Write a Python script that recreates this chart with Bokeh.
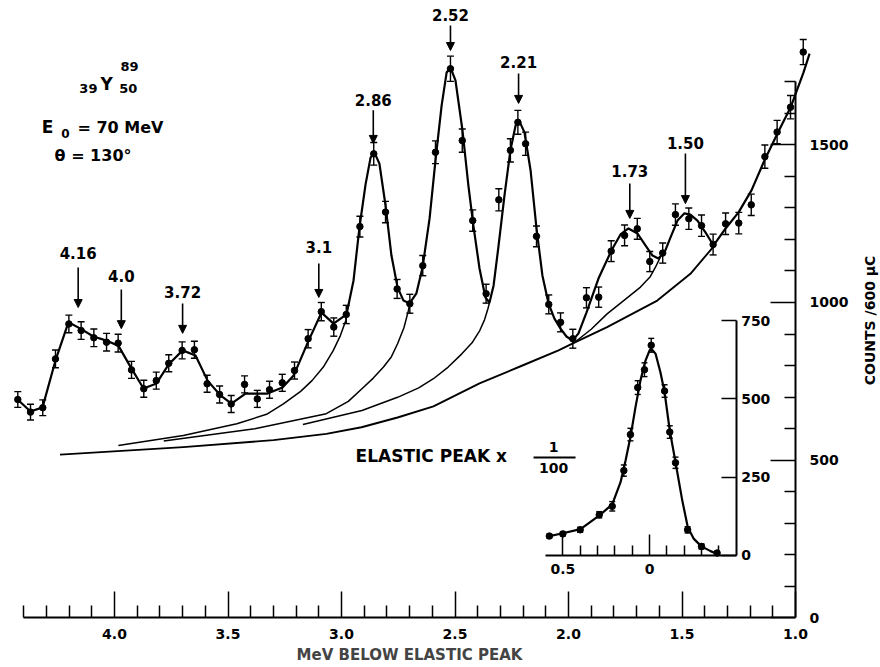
from bokeh.plotting import figure
from bokeh.models import (ColumnDataSource, Range1d, LinearAxis, FixedTicker,
                          Whisker, TeeHead, Arrow, NormalHead, Label)
from bokeh.core.properties import value
from bokeh.embed import file_html
from bokeh.resources import INLINE

FONT = "DejaVu Sans"

# ---------------- main spectrum (MeV below elastic peak, counts / 600 uC) ----
energy = [4.426, 4.370, 4.316, 4.260, 4.201, 4.147, 4.091, 4.035, 3.984, 3.925,
          3.871, 3.816, 3.761, 3.702, 3.648, 3.592, 3.537, 3.486, 3.427, 3.371,
          3.317, 3.261, 3.207, 3.147, 3.089, 3.034, 2.979, 2.919, 2.858, 2.806,
          2.755, 2.699, 2.642, 2.586, 2.520, 2.468, 2.422, 2.363, 2.307, 2.256,
          2.223, 2.189, 2.141, 2.087, 2.035, 1.981, 1.921, 1.867, 1.812, 1.753,
          1.697, 1.642, 1.585, 1.529, 1.470, 1.414, 1.363, 1.308, 1.250, 1.195,
          1.135, 1.081, 1.022, 0.966]
counts = [692, 652, 666, 821, 932, 911, 888, 874, 871, 786,
          726, 752, 807, 848, 850, 742, 708, 678, 740, 694,
          723, 745, 784, 885, 971, 922, 962, 1241, 1472, 1287,
          1043, 996, 1117, 1477, 1742, 1514, 1260, 1028, 1326, 1483,
          1572, 1504, 1210, 994, 937, 885, 1015, 1017, 1163, 1213,
          1234, 1130, 1157, 1279, 1266, 1244, 1184, 1250, 1252, 1310,
          1463, 1541, 1620, 1795]
count_err = [25, 25, 25, 28, 28, 28, 28, 28, 28, 27,
             27, 27, 27, 27, 27, 27, 27, 27, 27, 27,
             27, 27, 27, 29, 29, 29, 29, 33, 36, 34,
             30, 30, 32, 36, 40, 37, 34, 30, 35, 37,
             38, 37, 33, 30, 30, 30, 32, 32, 33, 33,
             33, 32, 32, 34, 34, 34, 33, 34, 34, 34,
             37, 37, 37, 40]

# fitted total curve
fit_energy = [4.427, 4.370, 4.317, 4.260, 4.203, 4.150, 4.093, 4.035, 3.983, 3.925,
              3.872, 3.815, 3.762, 3.700, 3.643, 3.590, 3.533, 3.485, 3.423, 3.374,
              3.326, 3.260, 3.211, 3.145, 3.088, 3.035, 2.978, 2.947, 2.921, 2.894,
              2.872, 2.855, 2.833, 2.806, 2.780, 2.753, 2.727, 2.700, 2.670, 2.643,
              2.612, 2.586, 2.559, 2.537, 2.520, 2.498, 2.467, 2.441, 2.419, 2.392,
              2.366, 2.348, 2.330, 2.308, 2.282, 2.256, 2.233, 2.216, 2.194, 2.167,
              2.141, 2.115, 2.088, 2.062, 2.035, 2.009, 1.982, 1.956, 1.921, 1.868,
              1.811, 1.771, 1.736, 1.696, 1.661, 1.630, 1.604, 1.577, 1.551, 1.520,
              1.489, 1.463, 1.432, 1.396, 1.361, 1.308, 1.251, 1.194, 1.137, 1.079,
              1.022, 0.965, 0.938]
fit_counts = [692, 654, 667, 816, 937, 917, 892, 879, 863, 790,
              727, 743, 803, 848, 832, 752, 705, 679, 711, 711,
              711, 730, 768, 879, 968, 933, 962, 1070, 1238, 1375,
              1460, 1476, 1441, 1308, 1149, 1048, 1006, 997, 1029, 1111,
              1267, 1451, 1625, 1730, 1746, 1705, 1546, 1371, 1244, 1108,
              1016, 1000, 1054, 1181, 1340, 1483, 1562, 1575, 1540, 1419,
              1235, 1086, 997, 949, 917, 892, 879, 902, 968, 1076,
              1165, 1216, 1235, 1219, 1181, 1149, 1140, 1159, 1206, 1260,
              1283, 1279, 1260, 1222, 1181, 1235, 1286, 1356, 1451, 1537,
              1619, 1730, 1790]

# radiative tails / background curves
bg_energy = [4.240, 3.697, 3.300, 3.067, 2.912, 2.753, 2.595, 2.392, 2.203, 2.044,
             1.981, 1.830, 1.609, 1.463, 1.363]
bg_counts = [517, 541, 563, 583, 604, 635, 670, 743, 800, 848,
             870, 922, 1006, 1091, 1176]
tail_b_energy = [3.983, 3.697, 3.461, 3.330, 3.256, 3.180, 3.130, 3.080, 3.036, 3.005,
                 2.981, 2.978]
tail_b_counts = [546, 578, 615, 645, 678, 718, 752, 795, 848, 895, 943, 962]
tail_c_energy = [3.783, 3.382, 3.067, 2.970, 2.910, 2.860, 2.815, 2.780, 2.753, 2.725,
                 2.705, 2.700]
tail_c_counts = [560, 599, 647, 686, 726, 760, 795, 828, 869, 920, 975, 997]
tail_d_energy = [3.170, 2.910, 2.753, 2.660, 2.595, 2.530, 2.470, 2.425, 2.391, 2.370,
                 2.355, 2.348]
tail_d_counts = [613, 657, 699, 729, 758, 795, 837, 872, 911, 945, 980, 1000]
tail_e_energy = [1.981, 1.900, 1.830, 1.750, 1.683, 1.640, 1.617, 1.595]
tail_e_counts = [869, 915, 964, 1010, 1049, 1082, 1112, 1145]

# peak markers
peak_labels = ["4.16", "4.0", "3.72", "3.1", "2.86", "2.52", "2.21", "1.73", "1.50"]
peak_pos = [4.16, 3.97, 3.70, 3.10, 2.86, 2.52, 2.22, 1.73, 1.485]
peak_label_y = [1156, 1083, 1032, 1175, 1644, 1914, 1762, 1419, 1505]
arrow_top = [1111, 1041, 997, 1124, 1610, 1879, 1727, 1378, 1473]
arrow_tip = [984, 917, 902, 1016, 1505, 1800, 1632, 1267, 1314]

# ---------------- inset: elastic peak x 1/100 ----------------
inset_energy = [0.578, 0.500, 0.400, 0.290, 0.215, 0.148, 0.110, 0.068, 0.029, -0.010,
                -0.087, -0.117, -0.150, -0.220, -0.300, -0.390]
inset_counts = [62, 69, 82, 130, 157, 271, 386, 536, 593, 671,
                525, 394, 296, 82, 29, 8]
inset_err = [6, 6, 8, 10, 15, 18, 20, 22, 22, 22, 20, 20, 18, 10, 8, 5]
inset_fit_energy = [0.577, 0.500, 0.398, 0.289, 0.215, 0.167, 0.138, 0.110, 0.081, 0.052,
                    0.023, 0.000, -0.010, -0.035, -0.063, -0.087, -0.117, -0.150, -0.189,
                    -0.221, -0.256, -0.298, -0.352, -0.400]
inset_fit_counts = [62, 71, 84, 128, 163, 234, 303, 378, 473, 559,
                    622, 654, 660, 644, 585, 521, 399, 298, 176,
                    90, 53, 30, 14, 3]

# axes ticks
x_ticks = [4.0, 3.5, 3.0, 2.5, 2.0, 1.5, 1.0]
x_tick_labels = ["4.0", "3.5", "3.0", "2.5", "2.0", "1.5", "1.0"]
x_minor = [4.4, 4.3, 4.2, 4.1, 3.9, 3.8, 3.7, 3.6, 3.4, 3.3, 3.2, 3.1, 2.9, 2.8, 2.7, 2.6,
           2.4, 2.3, 2.2, 2.1, 1.9, 1.8, 1.7, 1.6, 1.4, 1.3, 1.2, 1.1]
y_ticks = [0, 500, 1000, 1500]
y_tick_labels = ["0", "500", "1000", "1500"]
y_minor = [100, 200, 300, 400, 600, 700, 800, 900, 1100, 1200, 1300, 1400, 1600, 1700]
ix_ticks = [0.5, 0.0]
ix_tick_labels = ["0.5", "0"]
ix_minor = [0.4, 0.3, 0.2, 0.1, -0.1, -0.2, -0.3, -0.4]
iy_ticks = [0, 250, 500, 750]
iy_tick_labels = ["0", "250", "500", "750"]

# ---------------- figure ----------------
p = figure(width=880, height=667,
           x_range=Range1d(4.5022, 0.6256), y_range=Range1d(-158.7, 1958.7),
           x_axis_type=None, y_axis_type=None,
           toolbar_location=None, output_backend="svg",
           min_border=0, min_border_left=0, min_border_right=0,
           min_border_top=0, min_border_bottom=0,
           outline_line_color=None,
           background_fill_color="white", border_fill_color="white")
p.extra_x_ranges = {"ix": Range1d(3.745, -1.333)}
p.extra_y_ranges = {"iy": Range1d(-357.5, 1771.5)}


def style_axis(ax, major_in, minor_in, standoff):
    ax.axis_line_width = 2
    ax.axis_line_color = "black"
    ax.major_tick_in = major_in
    ax.major_tick_out = 0
    ax.minor_tick_in = minor_in
    ax.minor_tick_out = 0
    ax.major_tick_line_width = 1.5
    ax.minor_tick_line_width = 1.5
    ax.major_tick_line_color = "black"
    ax.minor_tick_line_color = "black"
    ax.major_label_text_font = FONT
    ax.major_label_text_font_size = "14px"
    ax.major_label_text_font_style = "bold"
    ax.major_label_text_color = "black"
    ax.major_label_standoff = standoff


xaxis = LinearAxis(ticker=FixedTicker(ticks=x_ticks, minor_ticks=x_minor),
                   fixed_location=0, bounds=(1.0, 4.4),
                   major_label_overrides=dict(zip(x_ticks, x_tick_labels)),
                   axis_label="MeV BELOW ELASTIC PEAK")
style_axis(xaxis, 26, 12, 11)
xaxis.axis_label_text_font = FONT
xaxis.axis_label_text_font_size = "15px"
xaxis.axis_label_text_font_style = "bold"
xaxis.axis_label_standoff = 4
p.add_layout(xaxis, "below")

yaxis = LinearAxis(ticker=FixedTicker(ticks=y_ticks, minor_ticks=y_minor),
                   fixed_location=1.0, bounds=(0, 1700),
                   major_label_overrides=dict(zip(y_ticks, y_tick_labels)))
style_axis(yaxis, 25, 11, 14)
p.add_layout(yaxis, "right")

ixaxis = LinearAxis(x_range_name="ix", y_range_name="iy",
                    ticker=FixedTicker(ticks=ix_ticks, minor_ticks=ix_minor),
                    fixed_location=0, bounds=(-0.5, 0.6),
                    major_label_overrides=dict(zip(ix_ticks, ix_tick_labels)))
style_axis(ixaxis, 21, 10, 9)
p.add_layout(ixaxis, "below")

iyaxis = LinearAxis(x_range_name="ix", y_range_name="iy",
                    ticker=FixedTicker(ticks=iy_ticks),
                    fixed_location=-0.5, bounds=(0, 750),
                    major_label_overrides=dict(zip(iy_ticks, iy_tick_labels)))
style_axis(iyaxis, 15, 0, 5)
p.add_layout(iyaxis, "right")

# ---------------- curves ----------------
for ex, cy, lw in [(bg_energy, bg_counts, 1.9), (tail_b_energy, tail_b_counts, 1.5),
                   (tail_c_energy, tail_c_counts, 1.5), (tail_d_energy, tail_d_counts, 1.5),
                   (tail_e_energy, tail_e_counts, 1.5)]:
    p.line(ex, cy, line_color="black", line_width=lw, line_join="round")
p.line(fit_energy, fit_counts, line_color="black", line_width=2.2, line_join="round")

# ---------------- data points with error bars ----------------
main_src = ColumnDataSource(dict(
    x=energy, y=counts,
    lower=[c - e for c, e in zip(counts, count_err)],
    upper=[c + e for c, e in zip(counts, count_err)]))
p.add_layout(Whisker(source=main_src, base="x", lower="lower", upper="upper",
                     dimension="height", line_color="black", line_width=1.4,
                     lower_head=TeeHead(size=7, line_width=1.4, line_color="black"),
                     upper_head=TeeHead(size=7, line_width=1.4, line_color="black")))
p.scatter("x", "y", source=main_src, size=6.5, color="black")

inset_src = ColumnDataSource(dict(
    x=inset_energy, y=inset_counts,
    lower=[c - e for c, e in zip(inset_counts, inset_err)],
    upper=[c + e for c, e in zip(inset_counts, inset_err)]))
p.line(inset_fit_energy, inset_fit_counts, line_color="black", line_width=2.2,
       line_join="round", x_range_name="ix", y_range_name="iy")
p.add_layout(Whisker(source=inset_src, base="x", lower="lower", upper="upper",
                     dimension="height", line_color="black", line_width=1.4,
                     x_range_name="ix", y_range_name="iy",
                     lower_head=TeeHead(size=6, line_width=1.4, line_color="black"),
                     upper_head=TeeHead(size=6, line_width=1.4, line_color="black")))
p.scatter("x", "y", source=inset_src, size=6.5, color="black",
          x_range_name="ix", y_range_name="iy")

# ---------------- peak arrows and labels ----------------
peak_src = ColumnDataSource(dict(x=peak_pos, ly=peak_label_y, y0=arrow_top,
                                 y1=arrow_tip, text=peak_labels))
p.add_layout(Arrow(source=peak_src, x_start="x", y_start="y0", x_end="x", y_end="y1",
                   line_color="black", line_width=1.6,
                   end=NormalHead(size=8, fill_color="black", line_color="black",
                                  line_width=1)))
p.text(x="x", y="ly", text="text", source=peak_src, text_font=value(FONT),
       text_font_size=value("15px"), text_font_style="bold",
       text_align="center", text_baseline="middle", text_color="black")

# ---------------- text annotations ----------------
def lab(x, y, text, size, align="center", angle=0):
    p.add_layout(Label(x=x, y=y, text=text, text_font=FONT, text_font_size=size,
                       text_font_style="bold", text_align=align,
                       text_baseline="middle", text_color="black", angle=angle))


lab(4.035, 1695, "Y", "17px")
lab(4.115, 1679, "39", "13px")
lab(3.934, 1749, "89", "13px")
lab(3.939, 1679, "50", "13px")
lab(4.295, 1556, "E", "17px")
lab(4.216, 1537, "0", "12px")
lab(4.163, 1556, "= 70  MeV", "16px", align="left")
lab(4.264, 1467, "θ = 130°", "16px", align="left")

lab(2.938, 514, "ELASTIC PEAK x", "17px", align="left")
lab(2.066, 540, "1", "14px")
lab(2.066, 476, "100", "14px")
p.segment(x0=[2.154], y0=[508], x1=[1.969], y1=[508], line_color="black", line_width=2)

lab(0.670, 943, "COUNTS /600 μC", "14px", angle=1.5708)

open("out.html", "w").write(file_html(p, INLINE, "Y89 spectrum"))
